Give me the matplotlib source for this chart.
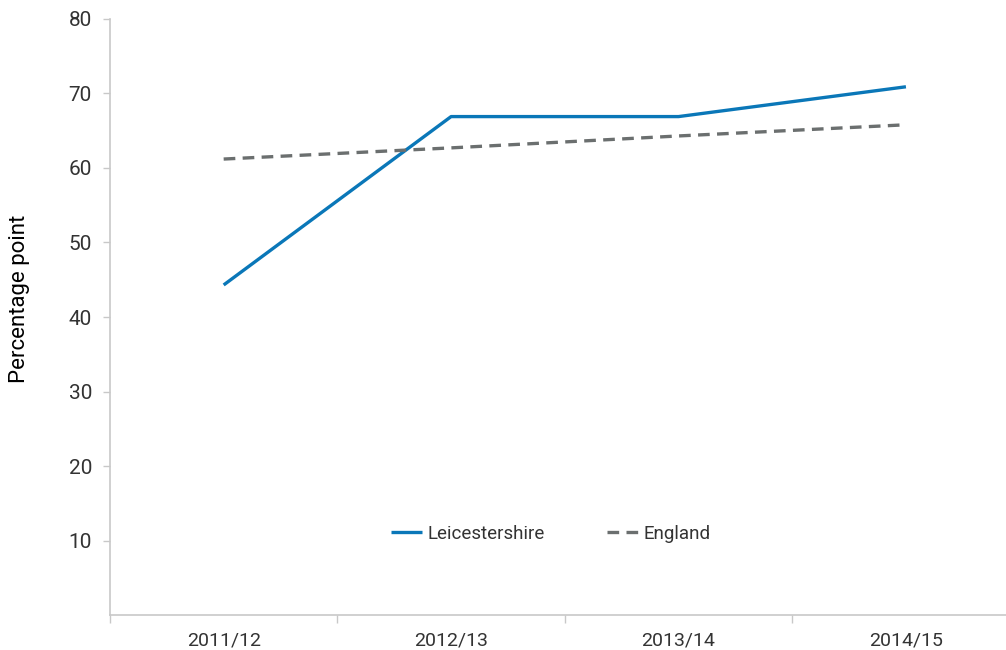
import matplotlib
matplotlib.use("Agg")
import matplotlib.pyplot as plt

plt.rcParams['font.family'] = ['Roboto', 'DejaVu Sans']

years = ['2011/12', '2012/13', '2013/14', '2014/15']
leicestershire = [44.3, 66.9, 66.9, 70.9]
england = [61.2, 62.7, 64.3, 65.8]
y_ticks = [10, 20, 30, 40, 50, 60, 70, 80]

text_col = '#333333'
axis_col = '#c8c8c8'

fig = plt.figure(figsize=(10.06, 6.5), dpi=100)
ax = fig.add_axes([0.1093, 0.0538, 0.8907, 0.917])

x = list(range(len(years)))
ax.plot(x, leicestershire, color='#0a77b8', lw=2.4, label='Leicestershire',
        solid_capstyle='butt')
ax.plot(x, england, color='#6b6f6f', lw=2.4, dashes=(3.5, 2.2), label='England')

ax.set_xlim(-0.5, 3.44)
ax.set_ylim(0, 80)

ax.set_yticks(y_ticks)
ax.set_yticklabels([str(v) for v in y_ticks])
ax.tick_params(axis='y', length=5, width=1, color=axis_col,
               labelsize=15, pad=8, labelcolor=text_col)

# category labels centred, tick marks between categories
ax.set_xticks([-0.5, 0.5, 1.5, 2.5])
ax.set_xticklabels([])
ax.set_xticks(x, minor=True)
ax.set_xticklabels(years, minor=True)
ax.tick_params(axis='x', which='major', length=6, width=1, color=axis_col,
               direction='out')
ax.tick_params(axis='x', which='minor', length=0, labelsize=14,
               labelcolor=text_col, pad=12)

for s in ['top', 'right']:
    ax.spines[s].set_visible(False)
for s in ['left', 'bottom']:
    ax.spines[s].set_color(axis_col)
    ax.spines[s].set_linewidth(1.2)

ax.set_ylabel('Percentage point', fontsize=16, color='black')
ax.yaxis.set_label_coords(-0.089, 0.53)

ax.legend(loc='center', bbox_to_anchor=(0.492, 0.136), ncol=2,
          frameon=False, fontsize=13.5, handlelength=1.65,
          handletextpad=0.3, columnspacing=3.3, labelcolor=text_col)

fig.savefig('out.png', dpi=100)
